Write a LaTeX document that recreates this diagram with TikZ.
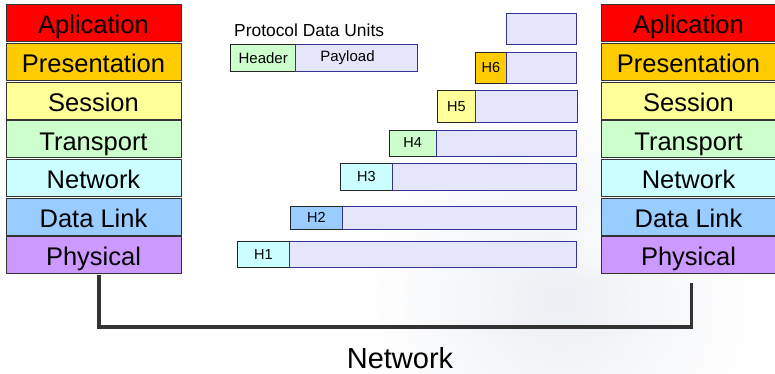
\documentclass[tikz,border=0pt]{standalone}
\usepackage{fontspec}
\setmainfont{Liberation Sans}
\usetikzlibrary{fadings}
\definecolor{appc}{HTML}{FF0000}
\definecolor{prec}{HTML}{FFCC00}
\definecolor{sesc}{HTML}{FFFF99}
\definecolor{trac}{HTML}{CCFFCC}
\definecolor{netc}{HTML}{CCFFFF}
\definecolor{dlkc}{HTML}{99CCFF}
\definecolor{phyc}{HTML}{CC99FF}
\definecolor{payc}{HTML}{E6E6FA}
\definecolor{payb}{HTML}{333399}
\definecolor{edgec}{HTML}{333333}
\definecolor{hazec}{HTML}{DDE2EA}
\tikzfading[name=softblob, inner color=transparent!0, outer color=transparent!100]
\begin{document}
\begin{tikzpicture}[x=1pt,y=-1pt,
  layer/.style={draw=edgec, line width=1pt, minimum width=175pt, minimum height=37pt,
    inner sep=0pt, outer sep=0pt, text height=21pt, text depth=0pt,
    font=\fontsize{25.5}{26}\selectfont},
  hdr/.style={draw=black!85, line width=0.9pt, inner sep=0pt, outer sep=0pt,
    anchor=north west, font=\fontsize{14.5}{15}\selectfont},
  pay/.style={draw=payb, fill=payc, line width=0.9pt, inner sep=0pt, outer sep=0pt,
    anchor=north west, font=\fontsize{15}{15}\selectfont},
  wire/.style={draw=edgec, line width=3.6pt}]
\useasboundingbox (0,0) rectangle (775,374);

% soft background haze
\fill[hazec, path fading=softblob, opacity=0.55] (560,300) circle (200);
\fill[hazec, path fading=softblob, opacity=0.45] (720,150) circle (120);
\fill[white, path fading=softblob, opacity=0.7] (600,240) circle (45);
\fill[white, path fading=softblob, opacity=0.7] (690,250) circle (40);

% left stack
\node[layer, fill=appc] (lapp) at (93.5,23.5)  {Aplication};
\node[layer, fill=prec] (lpre) at (93.5,62.5)  {Presentation};
\node[layer, fill=sesc] (lses) at (93.5,101)   {Session};
\node[layer, fill=trac] (ltra) at (93.5,139.5) {Transport};
\node[layer, fill=netc] (lnet) at (93.5,178)   {Network};
\node[layer, fill=dlkc] (ldlk) at (93.5,216.5) {Data Link};
\node[layer, fill=phyc] (lphy) at (93.5,254.5) {Physical};

% right stack
\node[layer, fill=appc] (rapp) at (688.5,23.5)  {Aplication};
\node[layer, fill=prec] (rpre) at (688.5,62.5)  {Presentation};
\node[layer, fill=sesc] (rses) at (688.5,101)   {Session};
\node[layer, fill=trac] (rtra) at (688.5,139.5) {Transport};
\node[layer, fill=netc] (rnet) at (688.5,178)   {Network};
\node[layer, fill=dlkc] (rdlk) at (688.5,216.5) {Data Link};
\node[layer, fill=phyc] (rphy) at (688.5,254.5) {Physical};

% legend
\node[anchor=base west, inner sep=0pt, font=\fontsize{17.4}{18}\selectfont] (title) at (234,37) {Protocol Data Units};
\node[hdr, fill=trac, minimum width=65pt, minimum height=26.7pt, font=\fontsize{15}{15}\selectfont] (lh) at (230.7,44.3) {Header};
\node[pay, minimum width=121.6pt, minimum height=26.7pt] (lp) at (lh.north east) {\hspace*{-18pt}Payload};

% encapsulated units
\node[pay, minimum width=70pt, minimum height=31pt] (p7) at (506,13.3) {};

\node[hdr, fill=prec, minimum width=30.3pt, minimum height=31pt] (h6) at (475.7,52.3) {H6};
\node[pay, minimum width=70pt, minimum height=31pt] (p6) at (h6.north east) {};

\node[hdr, fill=sesc, minimum width=38.7pt, minimum height=31.6pt] (h5) at (437,90.7) {H5};
\node[pay, minimum width=101.6pt, minimum height=31.6pt] (p5) at (h5.north east) {};

\node[hdr, fill=trac, minimum width=46.7pt, minimum height=26pt] (h4) at (389.3,130) {H4};
\node[pay, minimum width=140pt, minimum height=26pt] (p4) at (h4.north east) {};

\node[hdr, fill=netc, minimum width=52.7pt, minimum height=27.4pt] (h3) at (340,163.3) {H3};
\node[pay, minimum width=183.3pt, minimum height=27.4pt] (p3) at (h3.north east) {};

\node[hdr, fill=dlkc, minimum width=52.7pt, minimum height=23.3pt] (h2) at (290,206) {H2};
\node[pay, minimum width=233.3pt, minimum height=23.3pt] (p2) at (h2.north east) {};

\node[hdr, fill=netc, minimum width=52.4pt, minimum height=26.7pt] (h1) at (237.3,241) {H1};
\node[pay, minimum width=286.3pt, minimum height=26.7pt] (p1) at (h1.north east) {};

% physical link between the two stacks
\coordinate (lend) at (99,275);
\coordinate (rend) at (691.5,283);
\coordinate (low) at (99,327);
\draw[wire] (lend) -- (low) -| (rend);
\node[inner sep=0pt, font=\fontsize{29}{29}\selectfont, anchor=base] (net) at (400,368.5) {Network};
\end{tikzpicture}
\end{document}
